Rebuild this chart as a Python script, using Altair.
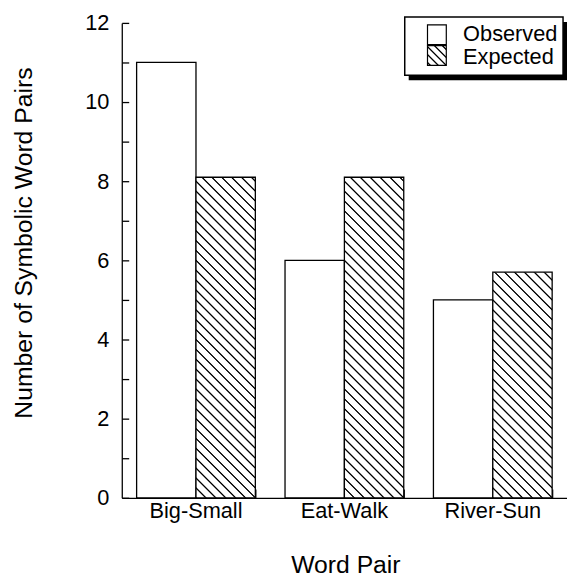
import altair as alt
import pandas as pd

# ---- data ----
categories = ["Big-Small", "Eat-Walk", "River-Sun"]
series = ["Observed", "Expected"]
observed = [11, 6, 5]
expected = [8.1, 8.1, 5.7]
y_label_ticks = [0, 2, 4, 6, 8, 10, 12]
y_minor_ticks = list(range(0, 13))
x_title = "Word Pair"
y_title = "Number of Symbolic Word Pairs"

# ---- layout / style ----
W, H = 450, 480
YMAX = 12
FONT = "Liberation Sans"
PAD_IN, PAD_OUT = 0.2, 0.1
step = W / (len(categories) - PAD_IN + 2 * PAD_OUT)
bar_w = step * (1 - PAD_IN) / 2

rows = []
for c, o, e in zip(categories, observed, expected):
    rows.append({"pair": c, "series": series[0], "count": o})
    rows.append({"pair": c, "series": series[1], "count": e})
df = pd.DataFrame(rows)


def hatch(w, h, spacing=10.0, phase=0.0):
    """Diagonal '\\' hatch as a linear gradient in bounding-box units."""
    r = h / w
    denom = 1 + r * r

    def t(c):
        return min(max((c / w + r) / denom, 0.0), 1.0)

    stops = [{"offset": 0, "color": "white"}]
    c = -h + phase
    last = 0.0
    while c < w + spacing:
        for cc, col in ((c - 1.5, "white"), (c - 0.35, "black"),
                        (c + 0.35, "black"), (c + 1.5, "white")):
            off = max(t(cc), last)
            last = off
            stops.append({"offset": off, "color": col})
        c += spacing
    stops.append({"offset": 1, "color": "white"})
    return {"gradient": "linear", "x1": 0, "y1": 1, "x2": 1, "y2": 1 - r,
            "stops": stops}


x_scale = alt.Scale(domain=categories, paddingInner=PAD_IN, paddingOuter=PAD_OUT)
xo_enc = alt.XOffset("series:N", scale=alt.Scale(domain=series, paddingInner=0,
                                                 paddingOuter=0))
y_scale = alt.Scale(domain=[0, YMAX], nice=False, zero=True)

# observed bars, carrying the labelled axes
obs_layer = alt.Chart(df).transform_filter(
    alt.datum.series == series[0]
).mark_bar(fill="white", stroke="black", strokeWidth=1.3).encode(
    x=alt.X("pair:N", scale=x_scale,
            axis=alt.Axis(orient="bottom", title=x_title, labelAngle=0,
                          ticks=False, tickSize=0, labelPadding=3, grid=False,
                          labelFontSize=22, labelFont=FONT, labelColor="black",
                          domainColor="black", domainWidth=1.3,
                          titleFont=FONT, titleFontSize=25, titleFontWeight="normal",
                          titleColor="black", titleX=W / 2 + 1, titleY=76,
                          titleAlign="center", titleBaseline="alphabetic")),
    xOffset=xo_enc,
    y=alt.Y("count:Q", scale=y_scale,
            axis=alt.Axis(orient="left", title=y_title, values=y_label_ticks,
                          ticks=False, tickSize=0, labelPadding=13, grid=False,
                          labelFontSize=22, labelFont=FONT, labelColor="black",
                          labelOverlap=False,
                          domainColor="black", domainWidth=1.3,
                          titleFont=FONT, titleFontSize=25, titleFontWeight="normal",
                          titleColor="black", titleX=-91, titleY=222,
                          titleAlign="center", titleBaseline="alphabetic")),
)

layers = [obs_layer]

# expected bars, each with a hatch fitted to its own shape
for i, (c, e) in enumerate(zip(categories, expected)):
    h = e / YMAX * H
    if i == 0:
        x_axis = alt.Axis(orient="top", offset=-H, labels=False, domain=False,
                          ticks=True, tickSize=9, tickBand="extent", grid=False,
                          tickColor="black", tickWidth=1.3, title=None)
        y_axis = alt.Axis(orient="right", offset=-W, labels=False, domain=False,
                          ticks=True, tickSize=7, values=y_minor_ticks, grid=False,
                          tickColor="black", tickWidth=1.3, title=None)
    else:
        x_axis = None
        y_axis = None
    layer = alt.Chart(df).transform_filter(
        (alt.datum.series == series[1]) & (alt.datum.pair == c)
    ).mark_bar(fill=hatch(bar_w, h), stroke="black", strokeWidth=1.3).encode(
        x=alt.X("pair:N", scale=x_scale, axis=x_axis),
        xOffset=xo_enc,
        y=alt.Y("count:Q", scale=y_scale, axis=y_axis),
    )
    layers.append(layer)

# manual legend (box with drop shadow)
one = pd.DataFrame({"k": [0]})
legend_shadow = alt.Chart(one).mark_rect(fill="black").encode(
    x=alt.value(290), x2=alt.value(450), y=alt.value(-1), y2=alt.value(58))
legend_box = alt.Chart(one).mark_rect(fill="white", stroke="black",
                                      strokeWidth=1.5).encode(
    x=alt.value(286), x2=alt.value(446), y=alt.value(-6), y2=alt.value(53))
sw_obs = alt.Chart(one).mark_rect(fill="white", stroke="black",
                                  strokeWidth=1.2).encode(
    x=alt.value(309), x2=alt.value(328), y=alt.value(2), y2=alt.value(22))
sw_exp = alt.Chart(one).mark_rect(fill=hatch(19, 20, spacing=8, phase=3),
                                  stroke="black", strokeWidth=1.2).encode(
    x=alt.value(309), x2=alt.value(328), y=alt.value(23), y2=alt.value(43))
legend_text = []
for s, yb in zip(series, [18, 42]):
    legend_text.append(
        alt.Chart(pd.DataFrame({"label": [s]})).mark_text(
            font=FONT, fontSize=22, color="black", align="left",
            baseline="alphabetic").encode(
            x=alt.value(345), y=alt.value(yb), text="label:N"))

chart = alt.layer(
    *layers, legend_shadow, legend_box, sw_obs, sw_exp, *legend_text
).resolve_axis(x="independent", y="independent").properties(
    width=W, height=H,
    autosize=alt.AutoSizeParams(type="none"),
    padding={"left": 115, "top": 12, "right": 0, "bottom": 79},
).configure_view(stroke=None).configure_axis(grid=False)

chart.save("out.html", embed_options={"renderer": "svg", "actions": False})
